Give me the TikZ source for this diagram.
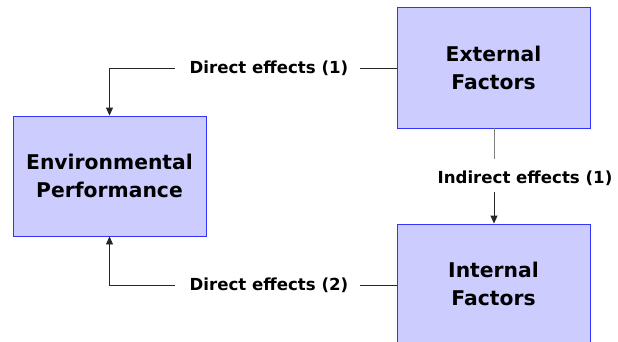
\documentclass[tikz,border=0pt]{standalone}
\usepackage{fontspec}
\setmainfont{DejaVu Sans}
\usetikzlibrary{arrows.meta}
\begin{document}
\begin{tikzpicture}[x=1pt,y=-1pt,
  box/.style={draw=blue!80!white,line width=0.9pt,fill={rgb,255:red,204;green,204;blue,255},minimum width=193pt,minimum height=120pt,align=center,font=\fontsize{20.3}{28}\selectfont\bfseries,inner sep=0pt},
  lbl/.style={font=\fontsize{16.6}{20}\selectfont\bfseries,inner sep=0pt},
  conn/.style={line width=0.9pt,draw=black!85},
  arr/.style={conn,-{Triangle[length=8pt,width=7pt]}}]
\useasboundingbox (0,0) rectangle (618,341);
\clip (0,0) rectangle (618,341);
\node[box] (env) at (109.5,176) {Environmental\\Performance};
\node[box,minimum height=121pt] (ext) at (493.5,67.5) {External\\Factors};
\node[box] (int) at (493.5,284) {Internal\\Factors};
\node[lbl] (d1) at (269,68) {Direct effects (1)};
\node[lbl] (d2) at (269,285) {Direct effects (2)};
\node[lbl] (ind) at (525,178) {Indirect effects (1)};
\coordinate (d1l) at (175,68);
\coordinate (d1r) at (360,68);
\coordinate (d2l) at (175,285);
\coordinate (d2r) at (360,285);
\coordinate (i1) at (494,159);
\coordinate (i2) at (494,192);
\draw[conn] (ext.west |- d1r) -- (d1r);
\draw[arr] (d1l) -- (d1l -| env.north) -- (env.north);
\draw[conn] (int.west |- d2r) -- (d2r);
\draw[arr] (d2l) -- (d2l -| env.south) -- (env.south);
\draw[conn,draw=gray] (ext.south -| i1) -- (i1);
\draw[arr] (i2) -- (int.north -| i2);
\end{tikzpicture}
\end{document}
